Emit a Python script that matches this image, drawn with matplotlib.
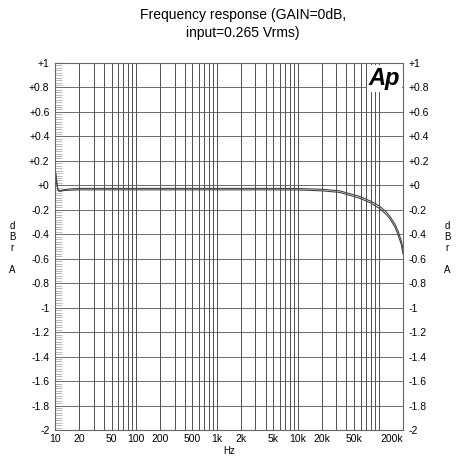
import numpy as np
import matplotlib
matplotlib.use('Agg')
import matplotlib.pyplot as plt
from matplotlib.ticker import FixedLocator, MultipleLocator, NullFormatter

# 读取的数据 (从图中估计)
freq = [10, 10.4, 10.8, 11.3, 12, 13, 15, 20, 50, 100, 200, 500, 1000, 2000, 5000,
        10000, 20000, 33000, 58000, 80000, 103000, 125000, 140000, 160000, 175000, 190000, 200000]
ch_a = [0.14, 0.05, -0.03, -0.045, -0.04, -0.035, -0.03, -0.025, -0.025, -0.025, -0.025, -0.025, -0.025, -0.025, -0.025,
        -0.026, -0.032, -0.045, -0.09, -0.13, -0.17, -0.22, -0.26, -0.32, -0.38, -0.45, -0.52]
ch_b = [0.14, 0.05, -0.035, -0.05, -0.047, -0.042, -0.04, -0.037, -0.037, -0.037, -0.037, -0.037, -0.037, -0.037, -0.037,
        -0.038, -0.045, -0.058, -0.105, -0.145, -0.19, -0.24, -0.28, -0.345, -0.41, -0.48, -0.56]

xtick_vals = [10, 20, 50, 100, 200, 500, 1000, 2000, 5000, 10000, 20000, 50000, 200000]
xtick_labels = ['10', '20', '50', '100', '200', '500', '1k', '2k', '5k', '10k', '20k', '50k', '200k']
ytick_vals = [1, 0.8, 0.6, 0.4, 0.2, 0, -0.2, -0.4, -0.6, -0.8, -1, -1.2, -1.4, -1.6, -1.8, -2]
ytick_labels = ['+1', '+0.8', '+0.6', '+0.4', '+0.2', '+0', '-0.2', '-0.4', '-0.6', '-0.8',
                '-1', '-1.2', '-1.4', '-1.6', '-1.8', '-2']

plt.rcParams['font.family'] = ['Liberation Sans', 'DejaVu Sans']

fig = plt.figure(figsize=(4.76, 4.57), dpi=100)
ax = fig.add_axes([55 / 476, 27 / 457, 348 / 476, 367 / 457])

ax.set_xscale('log')
ax.set_xlim(10, 200000)
ax.set_ylim(-2, 1)

# 网格
minor_x = [m * 10 ** e for e in range(1, 6) for m in range(1, 10) if m * 10 ** e <= 200000]
ax.xaxis.set_major_locator(FixedLocator(xtick_vals))
ax.xaxis.set_minor_locator(FixedLocator(minor_x))
ax.xaxis.set_minor_formatter(NullFormatter())
ax.set_xticklabels(xtick_labels)
ax.get_xticklabels()[-1].set_horizontalalignment('right')
ax.set_yticks(ytick_vals)
ax.set_yticklabels(ytick_labels)
ax.yaxis.set_minor_locator(MultipleLocator(0.02))

ax.grid(True, which='both', axis='x', color='#333333', linewidth=0.6)
ax.grid(True, which='major', axis='y', color='#555555', linewidth=0.6)

ax.tick_params(axis='x', which='both', length=0, labelsize=7.5, pad=3)
ax.tick_params(axis='y', which='major', length=0, labelsize=7.5, pad=4,
               labelleft=True, labelright=True)
ax.tick_params(axis='y', which='minor', direction='in', length=5, width=0.4, color='#888888')

for s in ax.spines.values():
    s.set_color('#666666')
    s.set_linewidth(0.8)

ax.plot(freq, ch_a, color='#444444', linewidth=0.8)
ax.plot(freq, ch_b, color='#444444', linewidth=0.8)

ax.set_xlabel('Hz', fontsize=7, labelpad=1)

fig.text(12 / 476, 1 - 248 / 457, 'd\nB\nr\n\nA', fontsize=7, ha='center', va='center', linespacing=1.15)
fig.text(447 / 476, 1 - 248 / 457, 'd\nB\nr\n\nA', fontsize=7, ha='center', va='center', linespacing=1.15)

fig.text(243 / 476, 1 - 24 / 457, 'Frequency response (GAIN=0dB,\ninput=0.265 Vrms)',
         fontsize=10, ha='center', va='center', linespacing=1.3)

ax.text(0.992, 0.99, 'Ap', transform=ax.transAxes, fontsize=17, fontweight='bold',
        fontstyle='italic', ha='right', va='top',
        bbox=dict(facecolor='white', edgecolor='none', pad=1.5))

fig.savefig('out.png', dpi=100)
